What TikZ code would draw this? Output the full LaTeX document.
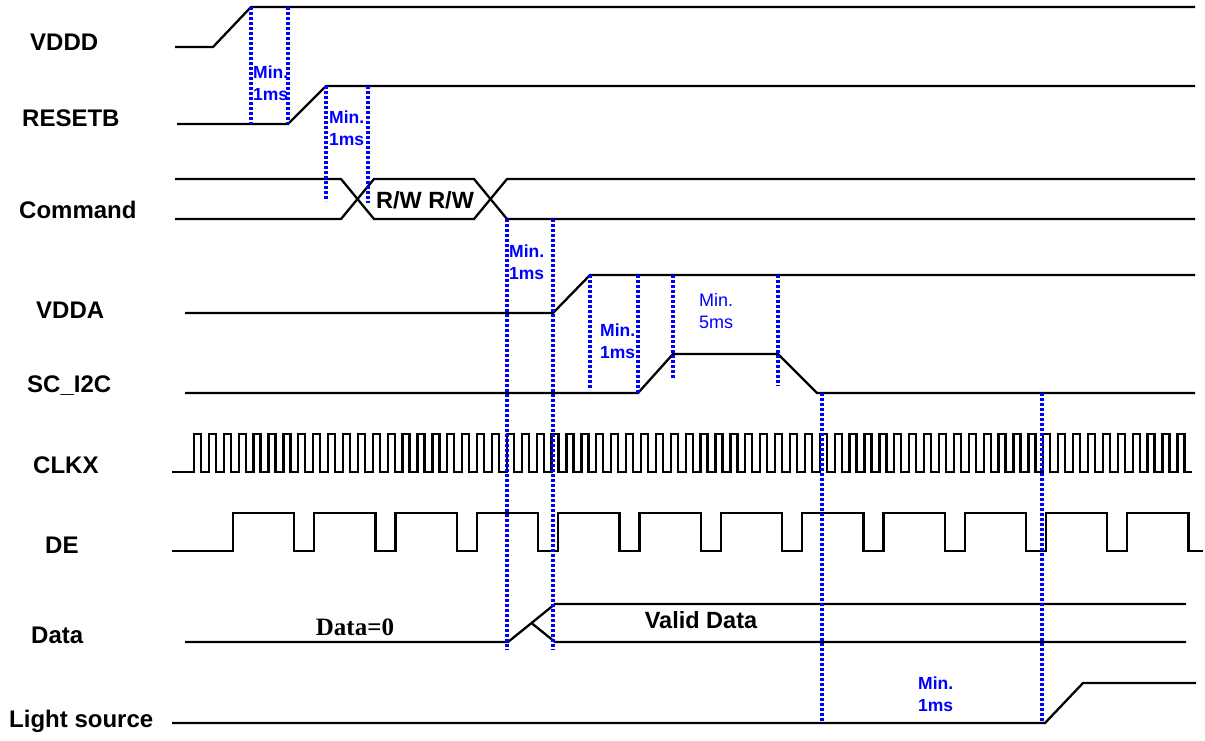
\documentclass[tikz,border=0pt]{standalone}
\usepackage{fontspec}
\setmainfont{Liberation Sans}
\newfontfamily\timesfont{Liberation Serif}
\usetikzlibrary{positioning}

\tikzset{
	sig/.style={line width=2.3pt},
	marker/.style={blue, line width=3.2pt, dash pattern=on 3pt off 2pt},
	signame/.style={anchor=west, inner sep=0pt, font=\fontsize{24}{24}\selectfont\bfseries},
	minlabel/.style={blue, inner sep=0pt, align=left, font=\fontsize{17.5}{22}\selectfont\bfseries},
	buslabel/.style={inner sep=0pt, font=\fontsize{23.5}{23.5}\selectfont\bfseries},
}

\begin{document}
\begin{tikzpicture}[x=1pt, y=-1pt]
	\useasboundingbox (0,0) rectangle (1205,740);

	% signal names
	\node[signame] (vddd) at (30,42) {VDDD};
	\node[signame] (resetb) at (22,118) {RESETB};
	\node[signame] (command) at (19,210) {Command};
	\node[signame] (vdda) at (36,310) {VDDA};
	\node[signame] (sci2c) at (27,386) {SC\_I2C};
	\node[signame] (clkx) at (33,465) {CLKX};
	\node[signame] (de) at (45,545) {DE};
	\node[signame] (data) at (31,635) {Data};
	\node[signame] (light) at (9,721) {Light source};

	% waveforms
	\draw[sig] (175,47) -- (213,47) -- (251,7) -- (1195,7);
	\draw[sig] (177,124) -- (288,124) -- (326,86) -- (1195,86);
	\draw[sig] (175,179) -- (341,179) -- (374,219) -- (474,219) -- (507,179) -- (1195,179);
	\draw[sig] (175,219) -- (341,219) -- (374,179) -- (474,179) -- (507,219) -- (1195,219);
	\draw[sig] (185,313) -- (553,313) -- (590,275) -- (1195,275);
	\draw[sig] (185,393) -- (638,393) -- (673,354) -- (778,354) -- (817,393) -- (1195,393);
	\draw[sig] (172,472) -- (194,472)
		\foreach \k in {0,...,66}{ -- ++(0,-38) -- ++(7,0) -- ++(0,38) -- ++(7.9,0) };
	\draw[sig] (172,551)
		\foreach \k in {0,...,11}{ -- ({233+81.3*\k},551) -- ++(0,-38) -- ++(61.3,0) -- ++(0,38) }
		-- (1203,551);
	\draw[sig] (185,642) -- (508,642) -- (555,604) -- (1186,604);
	\draw[sig] (531.5,623) -- (555,642) -- (1186,642);
	\draw[sig] (172,723) -- (1045,723) -- (1083,683) -- (1196,683);

	% texts on the buses
	\node[buslabel] (rw) at (425,200) {R/W R/W};
	\node[buslabel, font=\fontsize{25}{25}\selectfont\timesfont\bfseries] (zero) at (355,627) {Data=0};
	\node[buslabel] (valid) at (701,620) {Valid Data};

	% timing labels
	\node[minlabel, anchor=west] (t1) at (253,83) {Min.\\1ms};
	\node[minlabel, anchor=west] (t2) at (329,128) {Min.\\1ms};
	\node[minlabel, anchor=west] (t3) at (509,262) {Min.\\1ms};
	\node[minlabel, anchor=west] (t4) at (600,341) {Min.\\1ms};
	\node[minlabel, anchor=west, font=\fontsize{18}{22}\selectfont] (t5) at (699,311) {Min.\\5ms};
	\node[minlabel, anchor=west] (t6) at (918,694) {Min.\\1ms};

	% markers
	\draw[marker] (251,7) -- (251,124);
	\draw[marker] (288,7) -- (288,124);
	\draw[marker] (326,86) -- (326,201);
	\draw[marker] (368,86) -- (368,203);
	\draw[marker] (507,219) -- (507,650);
	\draw[marker] (553,219) -- (553,650);
	\draw[marker] (590,275) -- (590,390);
	\draw[marker] (638,275) -- (638,393);
	\draw[marker] (673,275) -- (673,379);
	\draw[marker] (778,275) -- (778,386);
	\draw[marker] (822,393) -- (822,723);
	\draw[marker] (1042,393) -- (1042,723);
\end{tikzpicture}
\end{document}
